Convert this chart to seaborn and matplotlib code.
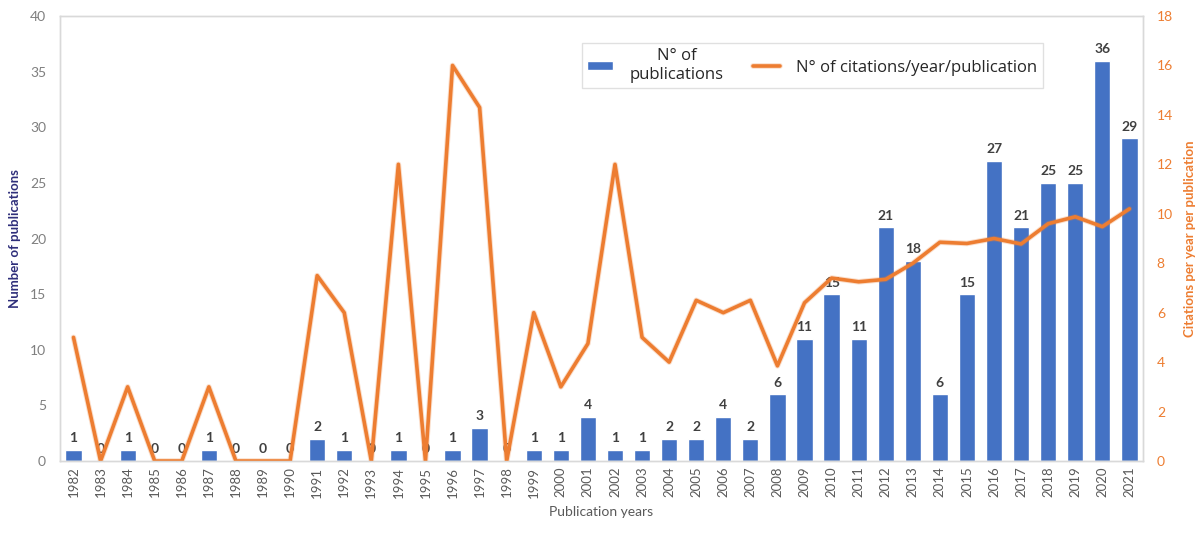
import numpy as np
import pandas as pd
import matplotlib
matplotlib.use("Agg")
import matplotlib.pyplot as plt
import matplotlib.patheffects as pe
import seaborn as sns

years = [str(y) for y in range(1982, 2022)]
publications = [1, 0, 1, 0, 0, 1, 0, 0, 0, 2, 1, 0, 1, 0, 1, 3, 0, 1, 1, 4,
                1, 1, 2, 2, 4, 2, 6, 11, 15, 11, 21, 18, 6, 15, 27, 21, 25, 25, 36, 29]
citations_per_pub = [5, 0, 3, 0, 0, 3, 0, 0, 0, 7.5, 6, 0, 12, 0, 16, 14.3, 0, 6, 3, 4.75,
                     12, 5, 4, 6.5, 6, 6.5, 3.85, 6.4, 7.4, 7.25, 7.35, 8.0, 8.85, 8.8, 9.0, 8.78,
                     9.6, 9.88, 9.48, 10.2]

left_ticks = list(range(0, 41, 5))
right_ticks = list(range(0, 19, 2))

BLUE = "#4472C4"
ORANGE = "#ED7D31"
GRAY = "#7F7F7F"
NAVY = "#2E2E7A"

sns.set_theme(style="white")
plt.rcParams["font.family"] = ["Lato", "DejaVu Sans"]

df = pd.DataFrame({"year": years, "pubs": publications,
                   "cites": citations_per_pub, "pos": np.arange(len(years))})

fig = plt.figure(figsize=(12.04, 5.36), dpi=100)
ax = fig.add_axes([0.0498, 0.1399, 0.8995, 0.8302])

sns.barplot(data=df, x="year", y="pubs", color=BLUE, saturation=1, width=0.6,
            ax=ax, label="N° of\npublications")
ax.bar_label(ax.containers[0], labels=[str(v) for v in publications], padding=4,
             fontsize=10, fontweight="bold", color="#404040")
if ax.get_legend():
    ax.get_legend().remove()

ax.set_xlim(-0.5, len(years) - 0.5)
ax.set_ylim(0, 40)
ax.set_yticks(left_ticks)
ax.tick_params(axis="y", labelsize=10, labelcolor=GRAY, length=0, pad=10)
ax.tick_params(axis="x", labelsize=9.5, labelcolor="#595959", length=0, rotation=90, pad=4)
ax.set_ylabel("Number of publications", fontsize=9.5, fontweight="bold", color=NAVY, labelpad=6)
ax.set_xlabel("Publication years", fontsize=10, color="#595959", labelpad=6)

ax2 = ax.twinx()
sns.lineplot(data=df, x="pos", y="cites", color=ORANGE, linewidth=2.6, ax=ax2,
             label="N° of citations/year/publication",
             path_effects=[pe.Stroke(linewidth=4.0, foreground=ORANGE, alpha=0.25), pe.Normal()])
ax2.set_ylim(0, 18)
ax2.set_yticks(right_ticks)
ax2.tick_params(axis="y", labelsize=10, labelcolor=ORANGE, length=0, pad=10)
ax2.set_ylabel("Citations per year per publication", fontsize=9.5, fontweight="bold",
               color=ORANGE, labelpad=8)
ax2.set_xlabel("")

for a in (ax, ax2):
    for s in a.spines.values():
        s.set_color("#D9D9D9")
        s.set_linewidth(1.0)
ax.grid(False)
ax2.grid(False)

h1, l1 = ax.get_legend_handles_labels()
h2, l2 = ax2.get_legend_handles_labels()
if ax2.get_legend():
    ax2.get_legend().remove()
leg = ax2.legend(h1 + h2, l1 + l2, ncol=2, loc="upper left",
                 bbox_to_anchor=(0.474, 0.845, 0.441, 0.112), mode="expand",
                 frameon=True, fancybox=False, edgecolor="#D9D9D9",
                 fontsize=12, handlelength=1.6, handleheight=0.45, columnspacing=1.2,
                 handletextpad=1.0, borderpad=0.3)
for t in leg.get_texts():
    t.set_multialignment("center")
    t.set_color("#262626")
    t.set_family(["Open Sans", "DejaVu Sans"])
leg.get_frame().set_linewidth(1.0)

fig.savefig("out.png", dpi=100, facecolor="white")
